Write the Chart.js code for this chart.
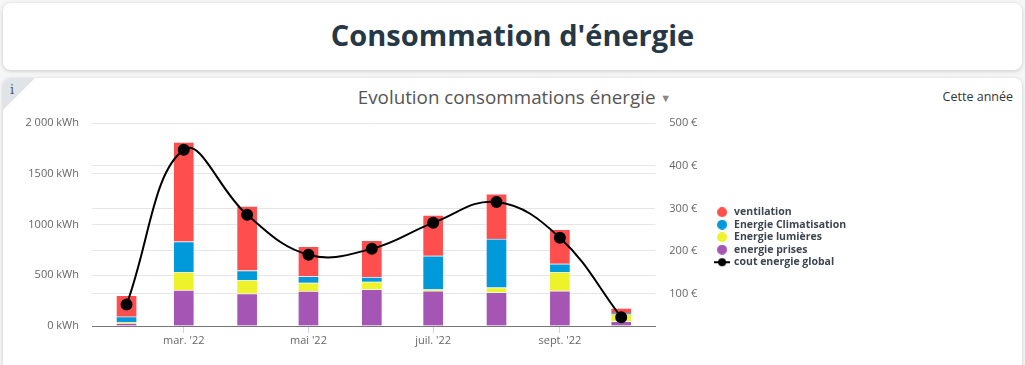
<!DOCTYPE html>
<html lang="fr">
<head>
<meta charset="utf-8">
<title>Consommation d'énergie</title>
<script src="https://cdn.jsdelivr.net/npm/chart.js@4.4.1/dist/chart.umd.min.js"></script>
<style>
  html, body { margin:0; padding:0; }
  body { width:1025px; height:365px; overflow:hidden; background:#f6f6f6; font-family:"Open Sans", sans-serif; position:relative; }
  .card { position:absolute; left:3px; width:1019px; background:#fff; border-radius:8px; box-shadow:0 1px 4px rgba(0,0,0,.18); }
  #head { top:3px; height:67px; }
  #head h1 { margin:0; text-align:center; line-height:63px; font-size:29px; font-weight:700; color:#263746; }
  #panel { top:78px; height:300px; overflow:hidden; }
  .corner { position:absolute; left:0; top:0; width:0; height:0; border-top:32px solid #dfe4e8; border-right:32px solid transparent; }
  .corner span { position:absolute; left:7px; top:-28px; font:13px "DejaVu Serif", serif; color:#555; }
  .ptitle { position:absolute; top:6px; left:4px; right:0; text-align:center; font-size:18.8px; color:#555; }
  .ptitle b { font-weight:400; font-size:11px; color:#888; vertical-align:2px; }
  .period { position:absolute; top:10px; right:9px; font-size:12.5px; color:#333; }
  #wrap { position:absolute; left:10px; top:110px; width:844px; height:238px; }
</style>
</head>
<body>
<div class="card" id="head"><h1>Consommation d'énergie</h1></div>
<div class="card" id="panel">
  <div class="corner"><span>i</span></div>
  <div class="ptitle">Evolution consommations énergie <b>&#9660;</b></div>
  <div class="period">Cette année</div>
</div>
<div id="wrap"><canvas id="energyChart"></canvas></div>

<script>
// months (1st of each month), values in kWh, cost in €
const months        = ['2022-02-01','2022-03-01','2022-04-01','2022-05-01','2022-06-01','2022-07-01','2022-08-01','2022-09-01','2022-10-01'];
const ventilation   = [210, 982, 636, 298, 364, 403, 446, 341, 49];
const climatisation = [54, 302, 96, 63, 46, 331, 479, 82, 13];
const lumieres      = [8, 177, 131, 82, 75, 13, 49, 183, 69];
const prises        = [30, 354, 321, 344, 361, 348, 331, 348, 46];
const coutGlobal    = [74, 438, 285, 191, 205, 266, 315, 231, 44];

const xTickDates  = ['2022-03-01','2022-05-01','2022-07-01','2022-09-01'];
const xTickLabels = ["mar. '22","mai '22","juil. '22","sept. '22"];
const yTicks      = [0, 500, 1000, 1500, 2000];
const yTickLabels = ['0 kWh','500 kWh','1000 kWh','1500 kWh','2 000 kWh'];
const y1Ticks     = [100, 200, 300, 400, 500];

const dayOf = s => (new Date(s + 'T00:00:00Z') - new Date('2022-01-01T00:00:00Z')) / 86400000;
const pts = arr => arr.map((v, i) => ({x: dayOf(months[i]), y: v}));

// legend markers drawn as small images (circle for bars, line + dot for the cost)
function marker(color, withLine) {
  const cv = document.createElement('canvas');
  cv.width = withLine ? 16 : 10; cv.height = 10;
  const c = cv.getContext('2d');
  c.fillStyle = color; c.strokeStyle = color; c.lineWidth = 2;
  if (withLine) { c.beginPath(); c.moveTo(0, 5); c.lineTo(16, 5); c.stroke(); }
  c.beginPath(); c.arc(cv.width / 2, 5, withLine ? 4 : 5, 0, Math.PI * 2); c.fill();
  return cv;
}

const tickFont = {family: '"Open Sans", sans-serif', size: 11};
const noPad = s => { s.paddingTop = 0; s.paddingBottom = 0; };
const bar = (label, data, color, order) => ({
  type: 'bar', label, data: pts(data), backgroundColor: color,
  borderColor: 'rgba(255,255,255,.45)', borderWidth: 1, barThickness: 21,
  yAxisID: 'y', order, pointStyle: marker(color)
});

new Chart(document.getElementById('energyChart'), {
  type: 'bar',
  data: {
    datasets: [
      bar('ventilation', ventilation, '#ff4e4e', 4),
      bar('Energie Climatisation', climatisation, '#0099da', 3),
      bar('Energie lumières', lumieres, '#eef22b', 2),
      bar('energie prises', prises, '#a556b4', 1),
      {
        type: 'line', label: 'cout energie global', data: pts(coutGlobal), yAxisID: 'y1', order: 0,
        borderColor: '#000', backgroundColor: '#000', borderWidth: 2, tension: 0.4,
        pointRadius: 5, pointHoverRadius: 5, clip: false
      }
    ]
  },
  options: {
    responsive: true, maintainAspectRatio: false, animation: false,
    layout: {padding: {top: 13.3, right: 0}},
    plugins: {
      tooltip: {enabled: false},
      legend: {
        position: 'right',
        title: {display: true, text: '', font: {size: 1}, padding: {top: 2, bottom: 0}},
        labels: {
          usePointStyle: true, pointStyleWidth: 13.5, boxHeight: 7, padding: 2,
          color: '#3c4550', font: {family: '"Open Sans", sans-serif', size: 10.5, weight: '700'},
          sort: (a, b) => a.datasetIndex - b.datasetIndex,
          generateLabels: chart => Chart.defaults.plugins.legend.labels.generateLabels(chart)
            .map(it => it.datasetIndex === 4 ? {...it, pointStyle: marker('#000', true)} : it)
        }
      }
    },
    scales: {
      x: {
        type: 'linear', stacked: true, min: 14.1, max: 289.7, offset: false,
        afterBuildTicks: s => { s.ticks = xTickDates.map(d => ({value: dayOf(d)})); },
        ticks: {color: '#666', font: tickFont, padding: 1, maxRotation: 0,
          callback: v => xTickLabels[xTickDates.findIndex(d => dayOf(d) === v)]},
        grid: {offset: false, drawOnChartArea: false, tickLength: 7, color: '#ccd6eb'},
        border: {color: '#777', width: 1},
        afterFit: s => { s.height = 22; }
      },
      y: {
        stacked: true, min: 0, max: 2000, position: 'left',
        afterBuildTicks: s => { s.ticks = yTicks.map(v => ({value: v})); },
        ticks: {color: '#666', font: tickFont, padding: 13, callback: v => yTickLabels[yTicks.indexOf(v)]},
        grid: {color: '#e6e6e6', drawTicks: false},
        border: {display: false},
        afterFit: s => { s.width = 82; noPad(s); }
      },
      y1: {
        position: 'right', min: 23.4, max: 500,
        afterBuildTicks: s => { s.ticks = y1Ticks.map(v => ({value: v})); },
        ticks: {color: '#666', font: tickFont, padding: 14, callback: v => v + ' €'},
        grid: {color: '#e6e6e6', drawTicks: false},
        border: {display: false},
        afterFit: s => { s.width = 58; noPad(s); }
      }
    }
  }
});
</script>
</body>
</html>
